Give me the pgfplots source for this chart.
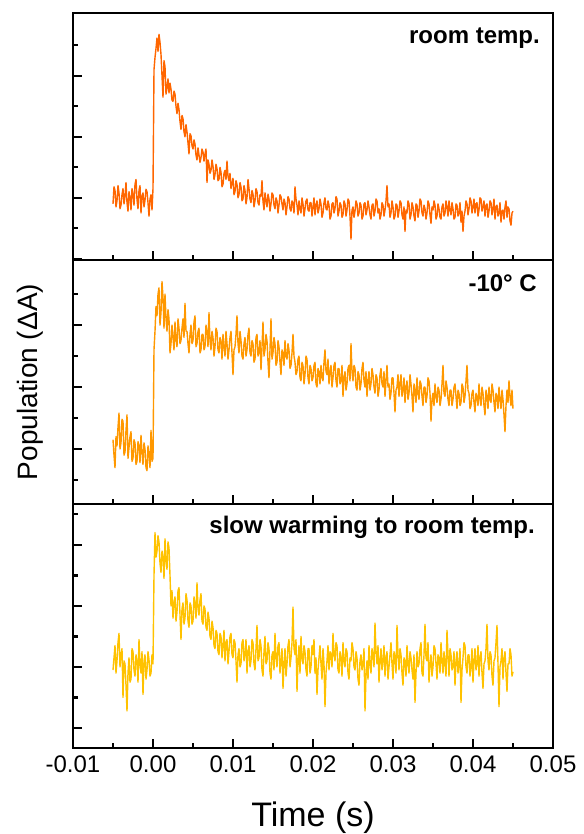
\documentclass[border=0pt]{standalone}
\usepackage{fontspec}
\setmainfont{Liberation Sans}
\usepackage{pgfplots}
\pgfplotsset{compat=1.18}
\definecolor{c1}{RGB}{255,102,0}
\definecolor{c2}{RGB}{255,152,0}
\definecolor{c3}{RGB}{255,194,0}
\pgfplotsset{panel/.style={
  scale only axis, width=480pt, anchor=south west,
  xmin=-10, xmax=50, xtick={-10,0,10,20,30,40,50}, minor x tick num=1,
  ytick={-1,0,1,2}, minor ytick={-0.5,0.5,1.5,2.5},
  yticklabels={}, xticklabels={},
  tick align=inside, xtick pos=bottom, ytick pos=left,
  axis line style={line width=2.6pt},
  major tick length=9pt, minor tick length=5pt,
  tick style={line width=2.2pt, black},
  ticklabel style={font=\fontsize{24}{28}\selectfont},
}}
\begin{document}
\begin{tikzpicture}
% ---------- panel 1: room temp (time in ms) ----------
\begin{axis}[panel, at={(0pt,488pt)}, height=247pt, ymin=-1.02, ymax=3.03]
\addplot[c1, line width=1.4pt, line join=round] coordinates {
(-5,-0.10)(-4.875,0.18)(-4.75,0.12)(-4.625,-0.15)(-4.5,-0.05)(-4.375,0.20)(-4.25,0.08)(-4.125,-0.18)(-4,-0.12)(-3.875,0.05)
(-3.75,0.15)(-3.625,-0.10)(-3.5,0.02)(-3.375,0.25)(-3.25,-0.08)(-3.125,-0.22)(-3,0.10)(-2.875,0.00)(-2.75,-0.20)(-2.625,0.15)
(-2.5,0.05)(-2.375,-0.12)(-2.25,0.22)(-2.125,0.30)(-2,-0.03)(-1.875,-0.18)(-1.75,0.12)(-1.625,0.20)(-1.5,-0.25)(-1.375,0.02)
(-1.25,0.08)(-1.125,-0.15)(-1,-0.04)(-0.875,0.14)(-0.75,0.10)(-0.625,-0.08)(-0.5,-0.30)(-0.375,-0.02)(-0.25,0.05)(-0.125,-0.20)
(0,0.15)(0.125,2.10)(0.25,2.30)(0.375,2.45)(0.5,2.62)(0.625,2.40)(0.75,2.68)(0.875,2.55)(1,2.35)(1.125,2.00)
(1.25,1.65)(1.375,2.25)(1.5,2.15)(1.625,1.70)(1.75,1.80)(1.875,1.95)(2,1.72)(2.125,1.88)(2.25,1.78)(2.375,1.60)
(2.5,1.58)(2.625,1.75)(2.75,1.70)(2.875,1.50)(3,1.38)(3.125,1.55)(3.25,1.45)(3.375,1.25)(3.5,1.12)(3.625,1.35)
(3.75,1.30)(3.875,1.08)(4,1.00)(4.125,1.20)(4.25,1.08)(4.375,0.90)(4.5,0.72)(4.625,1.05)(4.75,1.02)(4.875,0.85)
(5,0.80)(5.125,0.95)(5.25,0.88)(5.375,0.70)(5.5,0.62)(5.625,0.82)(5.75,0.70)(5.875,0.58)(6,0.66)(6.125,0.80)
(6.25,0.75)(6.375,0.60)(6.5,0.72)(6.625,0.80)(6.75,0.25)(6.875,0.62)(7,0.55)(7.125,0.40)(7.25,0.45)(7.375,0.62)
(7.5,0.52)(7.625,0.30)(7.75,0.38)(7.875,0.55)(8,0.48)(8.125,0.28)(8.25,0.30)(8.375,0.50)(8.5,0.42)(8.625,0.18)
(8.75,0.22)(8.875,0.40)(9,0.45)(9.125,0.30)(9.25,0.60)(9.375,0.35)(9.5,0.28)(9.625,0.40)(9.75,0.15)(9.875,0.25)
(10,0.32)(10.125,0.05)(10.25,0.10)(10.375,0.28)(10.5,0.22)(10.625,0.00)(10.75,0.05)(10.875,0.25)(11,0.18)(11.125,-0.05)
(11.25,-0.02)(11.375,0.20)(11.5,0.12)(11.625,-0.10)(11.75,0.00)(11.875,0.30)(12,0.15)(12.125,-0.02)(12.25,-0.08)(12.375,0.12)
(12.5,0.06)(12.625,-0.15)(12.75,-0.05)(12.875,0.15)(13,0.10)(13.125,-0.08)(13.25,-0.12)(13.375,0.05)(13.5,0.02)(13.625,0.28)
(13.75,-0.06)(13.875,-0.20)(14,0.08)(14.125,-0.05)(14.25,-0.15)(14.375,0.06)(14.5,-0.02)(14.625,-0.22)(14.75,-0.10)(14.875,0.08)
(15,0.05)(15.125,-0.12)(15.25,-0.18)(15.375,0.00)(15.5,-0.05)(15.625,-0.25)(15.75,-0.12)(15.875,0.05)(16,0.02)(16.125,-0.10)
(16.25,-0.20)(16.375,-0.02)(16.5,-0.08)(16.625,-0.28)(16.75,-0.15)(16.875,0.02)(17,-0.02)(17.125,-0.18)(17.25,-0.22)(17.375,-0.05)
(17.5,-0.10)(17.625,-0.25)(17.75,0.18)(17.875,-0.02)(18,-0.12)(18.125,-0.28)(18.25,-0.05)(18.375,-0.18)(18.5,-0.25)(18.625,0.00)
(18.75,-0.10)(18.875,-0.30)(19,-0.18)(19.125,-0.05)(19.25,-0.02)(19.375,-0.20)(19.5,-0.22)(19.625,-0.08)(19.75,-0.08)(19.875,-0.30)
(20,-0.15)(20.125,0.00)(20.25,-0.28)(20.375,-0.12)(20.5,-0.05)(20.625,-0.25)(20.75,-0.18)(20.875,-0.02)(21,-0.10)(21.125,-0.32)
(21.25,-0.25)(21.375,-0.08)(21.5,0.00)(21.625,-0.18)(21.75,-0.20)(21.875,-0.05)(22,-0.12)(22.125,-0.35)(22.25,-0.30)(22.375,-0.10)
(22.5,-0.08)(22.625,-0.25)(22.75,-0.18)(22.875,0.02)(23,-0.02)(23.125,-0.30)(23.25,-0.22)(23.375,-0.08)(23.5,-0.12)(23.625,-0.32)
(23.75,-0.28)(23.875,-0.05)(24,-0.10)(24.125,-0.30)(24.25,-0.20)(24.375,-0.02)(24.5,-0.05)(24.625,-0.30)(24.75,-0.68)(24.875,-0.20)
(25,-0.15)(25.125,-0.32)(25.25,-0.22)(25.375,-0.05)(25.5,-0.10)(25.625,-0.30)(25.75,-0.25)(25.875,-0.08)(26,-0.12)(26.125,-0.35)
(26.25,-0.30)(26.375,-0.10)(26.5,-0.08)(26.625,-0.28)(26.75,-0.20)(26.875,-0.05)(27,-0.15)(27.125,-0.28)(27.25,-0.35)(27.375,-0.12)
(27.5,-0.10)(27.625,-0.30)(27.75,-0.22)(27.875,-0.02)(28,-0.05)(28.125,-0.25)(28.25,-0.18)(28.375,-0.35)(28.5,-0.28)(28.625,-0.08)
(28.75,-0.12)(28.875,-0.30)(29,-0.20)(29.125,-0.05)(29.25,0.20)(29.375,-0.15)(29.5,-0.10)(29.625,-0.32)(29.75,-0.25)(29.875,-0.05)
(30,-0.15)(30.125,-0.35)(30.25,-0.30)(30.375,-0.10)(30.5,-0.12)(30.625,-0.32)(30.75,-0.22)(30.875,-0.05)(31,-0.08)(31.125,-0.28)
(31.25,-0.35)(31.375,-0.15)(31.5,-0.55)(31.625,-0.20)(31.75,-0.25)(31.875,-0.05)(32,-0.10)(32.125,-0.35)(32.25,-0.28)(32.375,-0.08)
(32.5,-0.15)(32.625,-0.30)(32.75,-0.38)(32.875,-0.10)(33,-0.12)(33.125,-0.32)(33.25,-0.22)(33.375,-0.02)(33.5,-0.05)(33.625,-0.25)
(33.75,-0.30)(33.875,-0.12)(34,-0.18)(34.125,-0.35)(34.25,-0.25)(34.375,-0.05)(34.5,-0.10)(34.625,-0.28)(34.75,-0.42)(34.875,-0.15)
(35,-0.20)(35.125,-0.05)(35.25,-0.12)(35.375,-0.35)(35.5,-0.30)(35.625,-0.10)(35.75,-0.18)(35.875,-0.32)(36,-0.35)(36.125,-0.15)
(36.25,-0.10)(36.375,-0.30)(36.5,-0.25)(36.625,-0.05)(36.75,-0.15)(36.875,-0.30)(37,-0.05)(37.125,-0.20)(37.25,-0.28)(37.375,-0.08)
(37.5,-0.18)(37.625,-0.35)(37.75,-0.32)(37.875,-0.10)(38,-0.12)(38.125,-0.30)(38.25,-0.25)(38.375,-0.08)(38.5,-0.40)(38.625,-0.22)
(38.75,-0.55)(38.875,-0.30)(39,-0.22)(39.125,-0.05)(39.25,-0.10)(39.375,-0.28)(39.5,-0.18)(39.625,0.00)(39.75,-0.05)(39.875,-0.25)
(40,-0.15)(40.125,-0.02)(40.25,-0.25)(40.375,-0.10)(40.5,-0.08)(40.625,-0.30)(40.75,-0.20)(40.875,0.00)(41,-0.02)(41.125,-0.22)
(41.25,-0.15)(41.375,-0.05)(41.5,-0.30)(41.625,-0.12)(41.75,-0.10)(41.875,-0.32)(42,-0.22)(42.125,-0.05)(42.25,-0.08)(42.375,-0.28)
(42.5,-0.18)(42.625,-0.02)(42.75,-0.35)(42.875,-0.15)(43,-0.12)(43.125,-0.30)(43.25,-0.25)(43.375,-0.08)(43.5,-0.40)(43.625,-0.22)
(43.75,-0.20)(43.875,-0.35)(44,-0.15)(44.125,-0.05)(44.25,-0.32)(44.375,-0.15)(44.5,-0.18)(44.625,-0.38)(44.75,-0.45)(44.875,-0.25)
(45,-0.22)
};
\node[anchor=north east, inner sep=0pt, xshift=-13pt, yshift=-15pt, font=\bfseries\fontsize{24}{28}\selectfont] at (rel axis cs:1,1) {room temp.};
\end{axis}
% ---------- panel 2: -10 C ----------
\begin{axis}[panel, at={(0pt,244pt)}, height=244pt, ymin=-0.887, ymax=3.05,
  ylabel={Population (ΔA)},
  ylabel style={at={(rel axis cs:-0.0896,0.5)}, anchor=center, font=\fontsize{28}{33}\selectfont}]
\addplot[c2, line width=1.4pt, line join=round] coordinates {
(-5,0.15)(-4.875,-0.10)(-4.75,-0.30)(-4.625,0.20)(-4.5,0.05)(-4.375,0.35)(-4.25,0.58)(-4.125,0.00)(-4,0.10)(-3.875,0.48)
(-3.75,0.45)(-3.625,-0.10)(-3.5,-0.05)(-3.375,0.30)(-3.25,0.55)(-3.125,-0.15)(-3,0.02)(-2.875,0.20)(-2.75,0.28)(-2.625,-0.20)
(-2.5,-0.15)(-2.375,0.15)(-2.25,0.10)(-2.125,-0.25)(-2,-0.20)(-1.875,0.12)(-1.75,0.05)(-1.625,-0.22)(-1.5,0.22)(-1.375,-0.05)
(-1.25,-0.25)(-1.125,0.10)(-1,0.00)(-0.875,-0.30)(-0.75,-0.35)(-0.625,0.05)(-0.5,-0.10)(-0.375,-0.30)(-0.25,0.30)(-0.125,-0.20)
(0,-0.15)(0.125,1.60)(0.25,1.90)(0.375,2.30)(0.5,2.15)(0.625,2.50)(0.75,2.60)(0.875,2.00)(1,2.20)(1.125,2.70)
(1.25,2.45)(1.375,1.95)(1.5,2.50)(1.625,2.10)(1.75,1.90)(1.875,2.25)(2,2.10)(2.125,1.55)(2.25,1.70)(2.375,2.00)
(2.5,1.80)(2.625,1.60)(2.75,2.05)(2.875,1.75)(3,1.65)(3.125,2.10)(3.25,1.95)(3.375,1.70)(3.5,1.75)(3.625,1.95)
(3.75,2.10)(3.875,1.80)(4,2.35)(4.125,1.90)(4.25,1.90)(4.375,1.70)(4.5,1.55)(4.625,1.85)(4.75,2.00)(4.875,1.70)
(5,1.75)(5.125,2.05)(5.25,2.15)(5.375,1.65)(5.5,1.70)(5.625,1.90)(5.75,1.95)(5.875,1.55)(6,1.60)(6.125,1.85)
(6.25,1.85)(6.375,1.60)(6.5,1.65)(6.625,2.00)(6.75,1.90)(6.875,1.65)(7,2.20)(7.125,1.75)(7.25,1.60)(7.375,1.90)
(7.5,1.80)(7.625,1.50)(7.75,1.65)(7.875,1.95)(8,1.90)(8.125,1.60)(8.25,1.55)(8.375,1.80)(8.5,1.75)(8.625,1.45)
(8.75,1.85)(8.875,1.65)(9,1.50)(9.125,1.90)(9.25,1.70)(9.375,1.45)(9.5,1.60)(9.625,1.80)(9.75,1.90)(9.875,1.55)
(10,1.20)(10.125,1.60)(10.25,1.65)(10.375,1.85)(10.5,2.15)(10.625,1.70)(10.75,1.55)(10.875,1.90)(11,1.75)(11.125,1.50)
(11.25,1.45)(11.375,1.70)(11.5,1.80)(11.625,1.50)(11.75,1.60)(11.875,1.85)(12,1.95)(12.125,1.55)(12.25,1.50)(12.375,1.75)
(12.5,1.70)(12.625,1.40)(12.75,1.45)(12.875,1.80)(13,1.85)(13.125,1.50)(13.25,1.55)(13.375,1.75)(13.5,1.28)(13.625,1.65)
(13.75,2.05)(13.875,1.50)(14,1.60)(14.125,1.85)(14.25,1.75)(14.375,1.40)(14.5,1.15)(14.625,1.60)(14.75,2.10)(14.875,1.45)
(15,1.55)(15.125,1.80)(15.25,1.70)(15.375,1.35)(15.5,1.40)(15.625,1.75)(15.75,1.65)(15.875,1.40)(16,1.20)(16.125,1.60)
(16.25,1.55)(16.375,1.35)(16.5,1.75)(16.625,1.50)(16.75,1.45)(16.875,1.70)(17,1.60)(17.125,1.30)(17.25,1.35)(17.375,1.55)
(17.5,1.85)(17.625,1.50)(17.75,1.40)(17.875,1.20)(18,1.25)(18.125,1.45)(18.25,1.50)(18.375,1.15)(18.5,1.10)(18.625,1.40)
(18.75,1.35)(18.875,1.05)(19,1.20)(19.125,1.50)(19.25,1.45)(19.375,1.15)(19.5,1.05)(19.625,1.35)(19.75,1.30)(19.875,1.10)
(20,1.15)(20.125,1.35)(20.25,1.40)(20.375,1.05)(20.5,1.00)(20.625,1.30)(20.75,1.25)(20.875,1.05)(21,1.35)(21.125,1.15)
(21.25,1.10)(21.375,1.40)(21.5,1.60)(21.625,1.25)(21.75,1.20)(21.875,1.45)(22,1.05)(22.125,1.25)(22.25,1.35)(22.375,1.00)
(22.5,1.15)(22.625,1.35)(22.75,1.40)(22.875,1.10)(23,1.00)(23.125,1.30)(23.25,1.30)(23.375,1.05)(23.5,1.10)(23.625,1.35)
(23.75,0.85)(23.875,1.15)(24,1.25)(24.125,0.95)(24.25,1.05)(24.375,1.30)(24.5,1.35)(24.625,1.10)(24.75,1.70)(24.875,1.25)
(25,1.10)(25.125,1.35)(25.25,1.30)(25.375,1.00)(25.5,0.95)(25.625,1.25)(25.75,1.20)(25.875,0.95)(26,1.05)(26.125,1.30)
(26.25,1.40)(26.375,1.10)(26.5,1.00)(26.625,1.25)(26.75,0.85)(26.875,1.10)(27,1.25)(27.125,0.95)(27.25,1.05)(27.375,1.30)
(27.5,1.20)(27.625,1.00)(27.75,0.90)(27.875,1.20)(28,1.15)(28.125,0.85)(28.25,0.95)(28.375,1.20)(28.5,1.30)(28.625,1.05)
(28.75,1.00)(28.875,1.25)(29,0.85)(29.125,1.10)(29.25,1.35)(29.375,1.00)(29.5,1.05)(29.625,0.80)(29.75,0.90)(29.875,1.15)
(30,1.15)(30.125,0.90)(30.25,0.60)(30.375,0.95)(30.5,1.00)(30.625,1.20)(30.75,0.85)(30.875,1.05)(31,1.20)(31.125,0.85)
(31.25,0.95)(31.375,1.15)(31.5,0.75)(31.625,1.00)(31.75,1.10)(31.875,0.80)(32,0.90)(32.125,1.20)(32.25,1.05)(32.375,0.85)
(32.5,0.60)(32.625,1.05)(32.75,0.95)(32.875,0.75)(33,1.15)(33.125,0.90)(33.25,0.80)(33.375,1.10)(33.5,1.05)(33.625,0.85)
(33.75,0.70)(33.875,1.00)(34,1.00)(34.125,0.75)(34.25,0.85)(34.375,1.15)(34.5,1.10)(34.625,0.90)(34.75,0.45)(34.875,0.80)
(35,0.90)(35.125,0.70)(35.25,1.05)(35.375,0.85)(35.5,0.75)(35.625,1.00)(35.75,0.95)(35.875,0.70)(36,0.80)(36.125,1.05)
(36.25,1.35)(36.375,0.90)(36.5,0.85)(36.625,1.10)(36.75,1.00)(36.875,0.80)(37,0.70)(37.125,0.95)(37.25,0.95)(37.375,0.70)
(37.5,0.80)(37.625,1.00)(37.75,1.05)(37.875,0.85)(38,0.65)(38.125,0.95)(38.25,0.90)(38.375,0.70)(38.5,0.75)(38.625,1.05)
(38.75,1.00)(38.875,0.75)(39,0.85)(39.125,1.10)(39.25,1.35)(39.375,0.95)(39.5,0.90)(39.625,0.65)(39.75,0.70)(39.875,0.90)
(40,0.95)(40.125,0.75)(40.25,0.60)(40.375,0.90)(40.5,0.85)(40.625,0.70)(40.75,1.05)(40.875,0.80)(41,0.70)(41.125,1.00)
(41.25,0.90)(41.375,0.70)(41.5,0.55)(41.625,0.95)(41.75,0.85)(41.875,0.65)(42,1.00)(42.125,0.80)(42.25,0.75)(42.375,1.05)
(42.5,0.95)(42.625,0.75)(42.75,0.60)(42.875,0.90)(43,0.85)(43.125,0.65)(43.25,1.00)(43.375,0.80)(43.5,0.65)(43.625,0.95)
(43.75,0.80)(43.875,0.55)(44,0.28)(44.125,0.70)(44.25,0.95)(44.375,0.75)(44.5,1.10)(44.625,0.85)(44.75,0.70)(44.875,0.95)
(45,0.65)
};
\node[anchor=north east, inner sep=0pt, xshift=-16pt, yshift=-15pt, font=\bfseries\fontsize{24}{28}\selectfont] at (rel axis cs:1,1) {-10° C};
\end{axis}
% ---------- panel 3: slow warming ----------
\begin{axis}[panel, at={(0pt,0pt)}, height=244pt, ymin=-1.328, ymax=2.67,
  xticklabels={-0.01,0.00,0.01,0.02,0.03,0.04,0.05},
  xticklabel style={yshift=-4pt},
  xlabel={Time (s)},
  xlabel style={at={(rel axis cs:0.5,0)}, anchor=center, yshift=-70pt, font=\fontsize{34}{39}\selectfont}]
\addplot[c3, line width=1.4pt, line join=round] coordinates {
(-5,-0.05)(-4.875,0.15)(-4.75,0.35)(-4.625,-0.10)(-4.5,0.10)(-4.375,0.40)(-4.25,0.55)(-4.125,0.00)(-4,0.20)(-3.875,0.30)
(-3.75,-0.50)(-3.625,0.10)(-3.5,0.05)(-3.375,-0.30)(-3.25,-0.72)(-3.125,-0.10)(-3,0.15)(-2.875,-0.25)(-2.75,-0.20)(-2.625,0.30)
(-2.5,0.25)(-2.375,-0.05)(-2.25,-0.15)(-2.125,0.20)(-2,0.10)(-1.875,-0.25)(-1.75,0.45)(-1.625,0.05)(-1.5,-0.10)(-1.375,0.25)
(-1.25,-0.45)(-1.125,0.10)(-1,0.20)(-0.875,-0.20)(-0.75,-0.05)(-0.625,0.25)(-0.5,0.12)(-0.375,-0.15)(-0.25,-0.10)(-0.125,0.20)
(0,0.05)(0.125,1.50)(0.25,2.20)(0.375,1.80)(0.5,1.90)(0.625,2.15)(0.75,2.05)(0.875,1.70)(1,1.55)(1.125,1.90)
(1.25,1.80)(1.375,1.45)(1.5,2.10)(1.625,1.75)(1.75,1.60)(1.875,2.05)(2,1.95)(2.125,1.50)(2.25,1.00)(2.375,1.25)
(2.5,0.80)(2.625,1.05)(2.75,1.15)(2.875,0.75)(3,0.90)(3.125,1.25)(3.25,1.30)(3.375,0.85)(3.5,0.45)(3.625,0.95)
(3.75,1.05)(3.875,0.70)(4,0.80)(4.125,1.20)(4.25,1.10)(4.375,0.75)(4.5,0.65)(4.625,1.05)(4.75,1.00)(4.875,0.70)
(5,0.75)(5.125,1.15)(5.25,1.05)(5.375,0.80)(5.5,1.38)(5.625,0.95)(5.75,0.85)(5.875,1.10)(6,1.20)(6.125,0.75)
(6.25,0.70)(6.375,1.00)(6.5,0.95)(6.625,0.65)(6.75,0.60)(6.875,0.90)(7,0.80)(7.125,0.50)(7.25,0.45)(7.375,0.75)
(7.5,0.65)(7.625,0.35)(7.75,0.30)(7.875,0.60)(8,0.55)(8.125,0.25)(8.25,0.20)(8.375,0.55)(8.5,0.50)(8.625,0.15)
(8.75,0.35)(8.875,0.60)(9,0.10)(9.125,0.40)(9.25,0.45)(9.375,0.05)(9.5,0.25)(9.625,0.50)(9.75,0.55)(9.875,0.20)
(10,0.15)(10.125,0.45)(10.25,0.40)(10.375,0.10)(10.5,-0.25)(10.625,0.20)(10.75,0.30)(10.875,0.00)(11,0.05)(11.125,0.40)
(11.25,0.45)(11.375,0.10)(11.5,0.20)(11.625,0.45)(11.75,-0.10)(11.875,0.25)(12,0.35)(12.125,0.00)(12.25,0.10)(12.375,0.45)
(12.5,0.40)(12.625,0.05)(12.75,-0.05)(12.875,0.30)(13,0.68)(13.125,0.10)(13.25,0.15)(13.375,0.45)(13.5,0.35)(13.625,-0.05)
(13.75,-0.15)(13.875,0.25)(14,0.50)(14.125,0.05)(14.25,0.10)(14.375,0.40)(14.5,0.30)(14.625,-0.10)(14.75,-0.20)(14.875,0.20)
(15,0.25)(15.125,-0.05)(15.25,0.55)(15.375,0.15)(15.5,0.00)(15.625,0.35)(15.75,0.40)(15.875,-0.10)(16,0.10)(16.125,0.30)
(16.25,-0.35)(16.375,0.05)(16.5,0.30)(16.625,-0.15)(16.75,0.05)(16.875,0.35)(17,0.45)(17.125,0.00)(17.25,0.15)(17.375,0.40)
(17.5,0.98)(17.625,0.30)(17.75,0.20)(17.875,0.45)(18,-0.40)(18.125,0.10)(18.25,0.35)(18.375,-0.10)(18.5,0.50)(18.625,0.15)
(18.75,0.05)(18.875,0.35)(19,0.25)(19.125,-0.05)(19.25,-0.15)(19.375,0.30)(19.5,0.30)(19.625,-0.10)(19.75,0.00)(19.875,0.35)
(20,0.20)(20.125,0.45)(20.25,-0.10)(20.375,0.15)(20.5,-0.45)(20.625,-0.05)(20.75,0.15)(20.875,0.35)(21,0.05)(21.125,-0.20)
(21.25,0.30)(21.375,0.05)(21.5,-0.65)(21.625,-0.10)(21.75,0.10)(21.875,0.35)(22,-0.05)(22.125,0.25)(22.25,0.20)(22.375,0.00)
(22.5,0.55)(22.625,0.20)(22.75,0.10)(22.875,0.40)(23,0.35)(23.125,-0.05)(23.25,-0.10)(23.375,0.25)(23.5,0.15)(23.625,-0.15)
(23.75,0.40)(23.875,0.10)(24,0.00)(24.125,0.30)(24.25,0.25)(24.375,-0.10)(24.5,-0.20)(24.625,0.15)(24.75,0.10)(24.875,0.40)
(25,0.30)(25.125,0.00)(25.25,-0.05)(25.375,0.25)(25.5,0.15)(25.625,-0.20)(25.75,-0.30)(25.875,0.10)(26,0.20)(26.125,-0.05)
(26.25,0.05)(26.375,0.30)(26.5,-0.72)(26.625,-0.15)(26.75,0.10)(26.875,-0.20)(27,0.35)(27.125,0.05)(27.25,-0.10)(27.375,0.30)
(27.5,0.20)(27.625,0.00)(27.75,0.72)(27.875,0.25)(28,0.05)(28.125,0.35)(28.25,-0.25)(28.375,0.10)(28.5,0.30)(28.625,-0.05)
(28.75,0.10)(28.875,0.35)(29,-0.15)(29.125,0.15)(29.25,0.25)(29.375,-0.20)(29.5,0.00)(29.625,0.20)(29.75,0.40)(29.875,0.05)
(30,-0.20)(30.125,0.25)(30.25,0.15)(30.375,-0.10)(30.5,0.68)(30.625,0.20)(30.75,-0.05)(30.875,0.30)(31,0.20)(31.125,-0.10)
(31.25,-0.30)(31.375,0.15)(31.5,0.10)(31.625,-0.15)(31.75,0.35)(31.875,0.05)(32,-0.10)(32.125,0.25)(32.25,0.15)(32.375,-0.05)
(32.5,-0.20)(32.625,0.20)(32.75,-0.58)(32.875,-0.10)(33,0.25)(33.125,0.00)(33.25,0.05)(33.375,0.30)(33.5,0.40)(33.625,-0.10)
(33.75,-0.15)(33.875,0.20)(34,0.70)(34.125,0.15)(34.25,0.10)(34.375,0.40)(34.5,-0.25)(34.625,0.05)(34.75,0.20)(34.875,-0.15)
(35,0.00)(35.125,0.35)(35.25,0.30)(35.375,0.05)(35.5,-0.20)(35.625,0.20)(35.75,0.15)(35.875,-0.10)(36,0.40)(36.125,0.10)
(36.25,-0.10)(36.375,0.25)(36.5,0.05)(36.625,-0.15)(36.75,0.60)(36.875,0.20)(37,-0.15)(37.125,0.30)(37.25,0.20)(37.375,-0.05)
(37.5,0.00)(37.625,0.25)(37.75,-0.30)(37.875,0.10)(38,0.25)(38.125,-0.10)(38.25,0.05)(38.375,0.30)(38.5,-0.58)(38.625,-0.05)
(38.75,0.15)(38.875,0.40)(39,0.35)(39.125,0.00)(39.25,-0.10)(39.375,0.20)(39.5,0.20)(39.625,-0.15)(39.75,0.00)(39.875,0.30)
(40,-0.25)(40.125,0.10)(40.25,0.30)(40.375,-0.05)(40.5,0.05)(40.625,0.35)(40.75,-0.15)(40.875,0.15)(41,0.25)(41.125,-0.10)
(41.25,-0.35)(41.375,0.05)(41.5,0.10)(41.625,0.30)(41.75,0.70)(41.875,0.10)(42,-0.05)(42.125,0.25)(42.25,0.20)(42.375,-0.15)
(42.5,-0.30)(42.625,0.10)(42.75,0.15)(42.875,0.40)(43,0.68)(43.125,0.05)(43.25,-0.65)(43.375,0.00)(43.5,0.10)(43.625,0.30)
(43.75,-0.20)(43.875,0.15)(44,0.25)(44.125,-0.10)(44.25,-0.40)(44.375,0.05)(44.5,0.05)(44.625,0.30)(44.75,0.20)(44.875,-0.15)
(45,-0.08)
};
\node[anchor=north east, inner sep=0pt, xshift=-18pt, yshift=-12pt, font=\bfseries\fontsize{24}{28}\selectfont] at (rel axis cs:1,1) {slow warming to room temp.};
\end{axis}
\pgfresetboundingbox
\path[use as bounding box] (-73pt,-86pt) rectangle (510pt,748pt);
\end{tikzpicture}
\end{document}
